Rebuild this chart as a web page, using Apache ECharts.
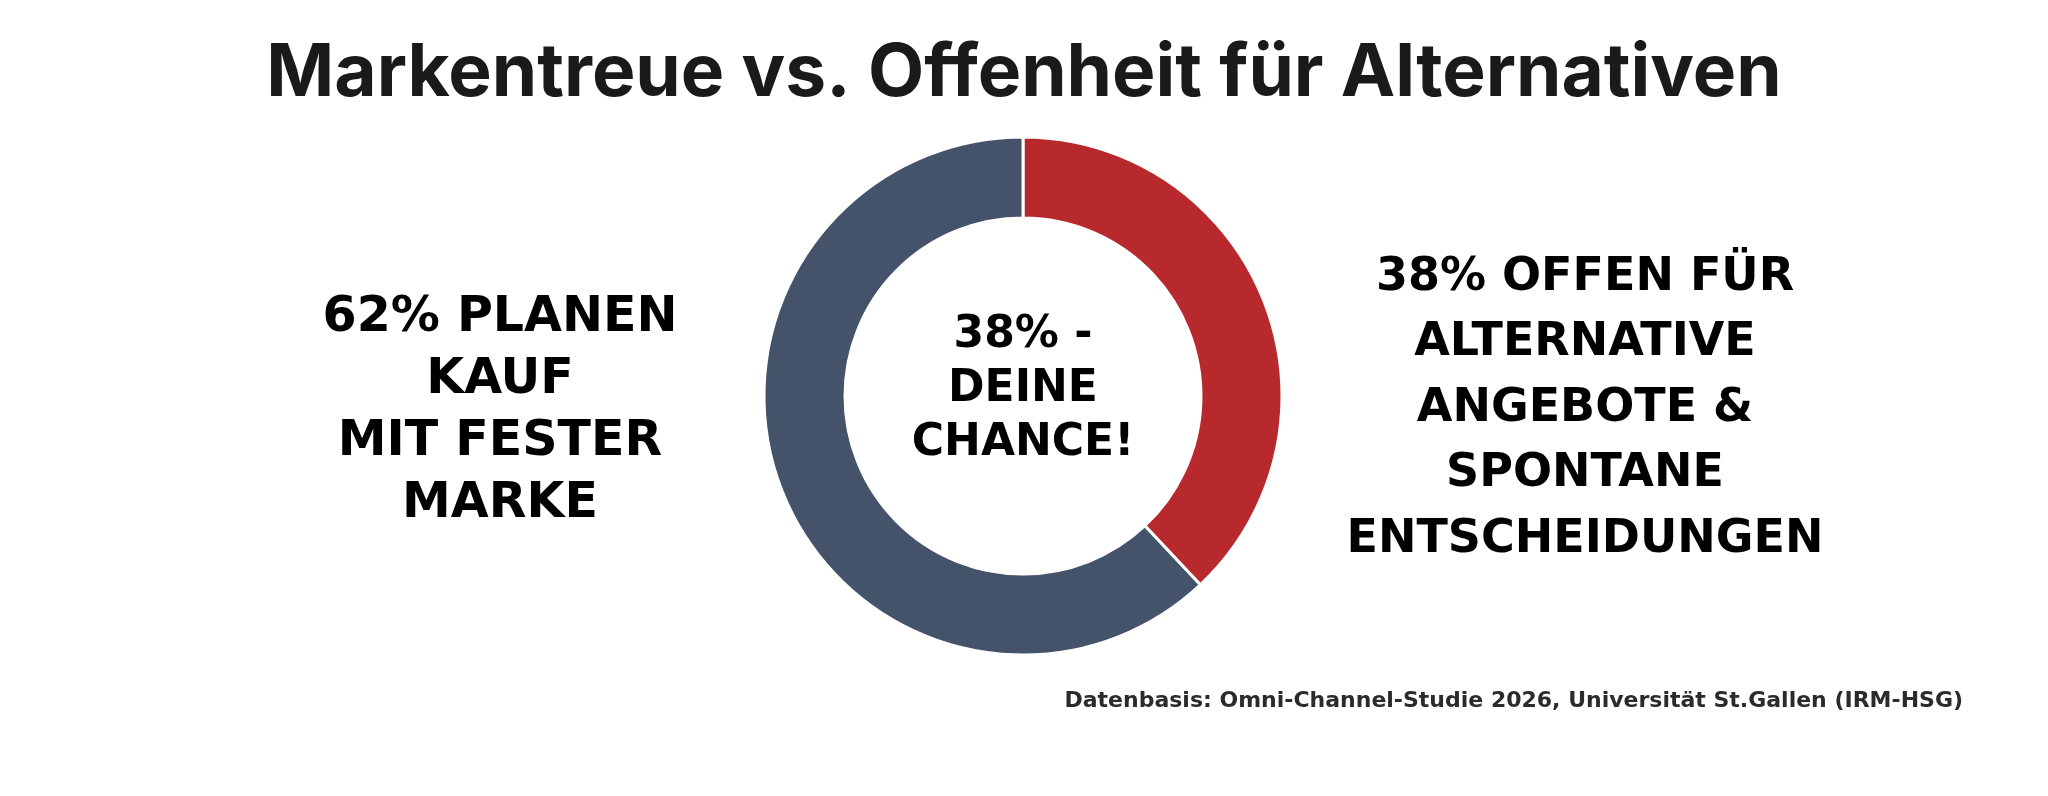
<!DOCTYPE html>
<html>
<head>
<meta charset="utf-8">
<script src="https://cdn.jsdelivr.net/npm/echarts@6/dist/echarts.min.js"></script>
<style>
  html, body { margin: 0; padding: 0; background: #fff; }
  #chart { width: 2048px; height: 796px; }
</style>
</head>
<body>
<div id="chart"></div>
<script>
// data
var categories = ['Offen für Alternativen', 'Planen Kauf mit fester Marke'];
var values = [38, 62];
var sliceColors = ['#b8292e', '#45536a'];

var titleText = 'Markentreue vs. Offenheit für Alternativen';
var centerText = '38% -\nDEINE\nCHANCE!';
var leftText = '62% PLANEN\nKAUF\nMIT FESTER\nMARKE';
var rightText = '38% OFFEN FÜR\nALTERNATIVE\nANGEBOTE &\nSPONTANE\nENTSCHEIDUNGEN';
var sourceText = 'Datenbasis: Omni-Channel-Studie 2026, Universität St.Gallen (IRM-HSG)';

var chart = echarts.init(document.getElementById('chart'));

var pieData = [];
for (var i = 0; i < values.length; i++) {
  pieData.push({ value: values[i], name: categories[i], itemStyle: { color: sliceColors[i] } });
}

chart.setOption({
  backgroundColor: '#ffffff',
  animation: false,
  title: {
    text: titleText,
    left: 'center',
    top: 33,
    textStyle: {
      fontFamily: 'Inter',
      fontWeight: 'bold',
      fontSize: 73,
      color: '#1a1a1a'
    }
  },
  series: [{
    type: 'pie',
    center: [1023, 396],
    radius: [178, 259],
    startAngle: 90,
    clockwise: true,
    label: { show: false },
    labelLine: { show: false },
    itemStyle: { borderColor: '#ffffff', borderWidth: 3 },
    data: pieData
  }],
  graphic: [
    {
      type: 'text',
      x: 1023, y: 390,
      style: {
        text: centerText,
        fill: '#000',
        font: 'bold 44px "DejaVu Sans"',
        lineHeight: 54,
        align: 'center',
        verticalAlign: 'middle'
      }
    },
    {
      type: 'text',
      x: 500, y: 411,
      style: {
        text: leftText,
        fill: '#000',
        font: 'bold 49px "DejaVu Sans"',
        lineHeight: 62,
        align: 'center',
        verticalAlign: 'middle'
      }
    },
    {
      type: 'text',
      x: 1585, y: 409,
      style: {
        text: rightText,
        fill: '#000',
        font: 'bold 46px "DejaVu Sans"',
        lineHeight: 65.5,
        align: 'center',
        verticalAlign: 'middle'
      }
    },
    {
      type: 'text',
      x: 1963, y: 701,
      style: {
        text: sourceText,
        fill: '#2b2b2b',
        font: 'bold 22px "DejaVu Sans"',
        align: 'right',
        verticalAlign: 'middle'
      }
    }
  ]
});
</script>
</body>
</html>
